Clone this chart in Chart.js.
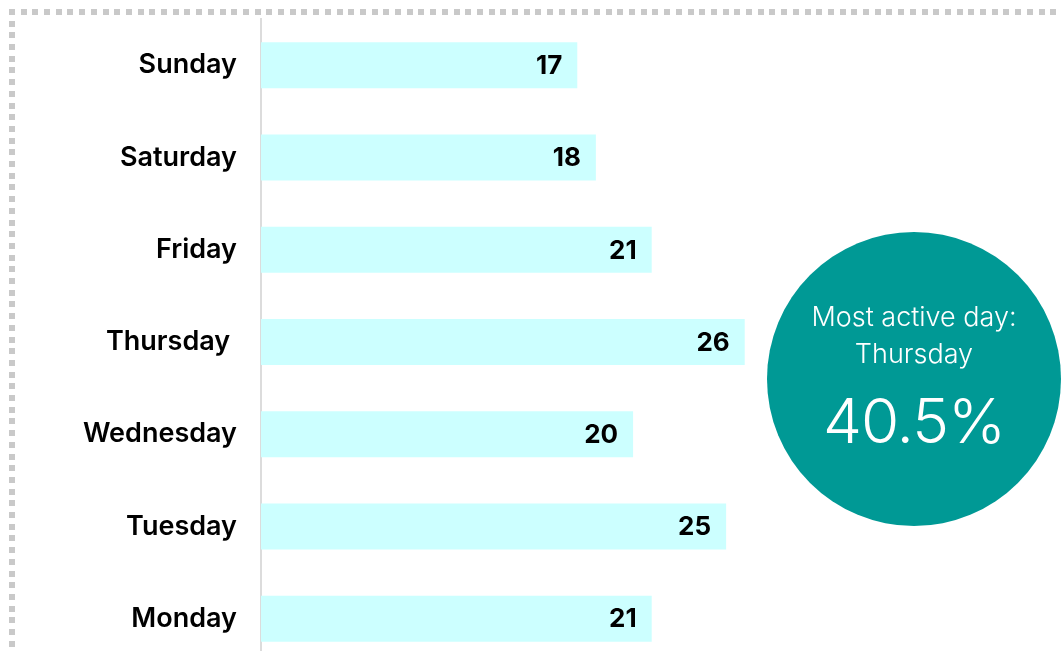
<!DOCTYPE html>
<html>
<head>
<meta charset="utf-8">
<script src="https://cdn.jsdelivr.net/npm/chart.js@4/dist/chart.umd.min.js"></script>
<style>
  html, body { margin: 0; padding: 0; background: #fff; overflow: hidden; }
  body { width: 1061px; height: 651px; position: relative; }
  .dots-top {
    position: absolute; left: 9px; top: 9px; width: 1100px; height: 6px;
    background: repeating-linear-gradient(to right, #c9c9c9 0 6px, transparent 6px 11.7px);
  }
  .dots-left {
    position: absolute; left: 9px; top: 9px; width: 6px; height: 700px;
    background: repeating-linear-gradient(to bottom, #c9c9c9 0 6px, transparent 6px 11.7px);
  }
  /* taller than the window: the last row runs off the bottom edge */
  #wrap { position: absolute; left: 0; top: -21px; width: 1061px; height: 726px; }
</style>
</head>
<body>
<div class="dots-top"></div>
<div class="dots-left"></div>
<div id="wrap"><canvas id="dias"></canvas></div>
<script>
const days = ["Sunday", "Saturday", "Friday", "Thursday ", "Wednesday", "Tuesday", "Monday"];
const counts = [17, 18, 21, 26, 20, 25, 21];
const topDay = "Thursday";
const topShare = "40.5%";

const FONT = "Inter, 'Noto Sans', sans-serif";
const SHIFT = 21; // canvas sits 21px above the page top

// numbers drawn inside the end of each bar
const valueLabels = {
  id: "valueLabels",
  afterDatasetsDraw(chart) {
    const ctx = chart.ctx;
    const meta = chart.getDatasetMeta(0);
    ctx.save();
    ctx.font = "700 26px " + FONT;
    ctx.fillStyle = "#000";
    ctx.textAlign = "right";
    ctx.textBaseline = "middle";
    meta.data.forEach((bar, i) => {
      ctx.fillText(String(counts[i]), bar.x - 15, bar.y + 1);
    });
    ctx.restore();
  }
};

// teal bubble with the busiest day
const bubble = {
  id: "bubble",
  afterDraw(chart) {
    const ctx = chart.ctx;
    const cx = 914, cy = 379 + SHIFT, r = 147;
    ctx.save();
    ctx.beginPath();
    ctx.arc(cx, cy, r, 0, Math.PI * 2);
    ctx.fillStyle = "#009995";
    ctx.fill();
    ctx.fillStyle = "#fff";
    ctx.textAlign = "center";
    ctx.textBaseline = "alphabetic";
    ctx.font = "300 27px " + FONT;
    ctx.fillText("Most active day:", cx, 326 + SHIFT);
    ctx.fillText(topDay, cx, 363 + SHIFT);
    ctx.font = "300 62px " + FONT;
    ctx.letterSpacing = "-1px";
    ctx.fillText(topShare, cx, 443 + SHIFT);
    ctx.restore();
  }
};

new Chart(document.getElementById("dias"), {
  type: "bar",
  data: {
    labels: days,
    datasets: [{
      data: counts,
      backgroundColor: "#ccffff",
      borderWidth: 0,
      barPercentage: 0.5,
      categoryPercentage: 1
    }]
  },
  options: {
    indexAxis: "y",
    responsive: true,
    maintainAspectRatio: false,
    animation: false,
    layout: { padding: 0 },
    plugins: { legend: { display: false }, tooltip: { enabled: false } },
    scales: {
      x: { display: false, min: 0, max: 43 },
      y: {
        grid: { display: false, drawTicks: false },
        border: { display: true, color: "#dcdcdc", width: 2 },
        ticks: {
          color: "#000",
          padding: 24,
          font: { family: FONT, size: 27, weight: "600" }
        },
        afterFit(scale) { scale.width = 261; }
      }
    }
  },
  plugins: [valueLabels, bubble]
});
</script>
</body>
</html>
